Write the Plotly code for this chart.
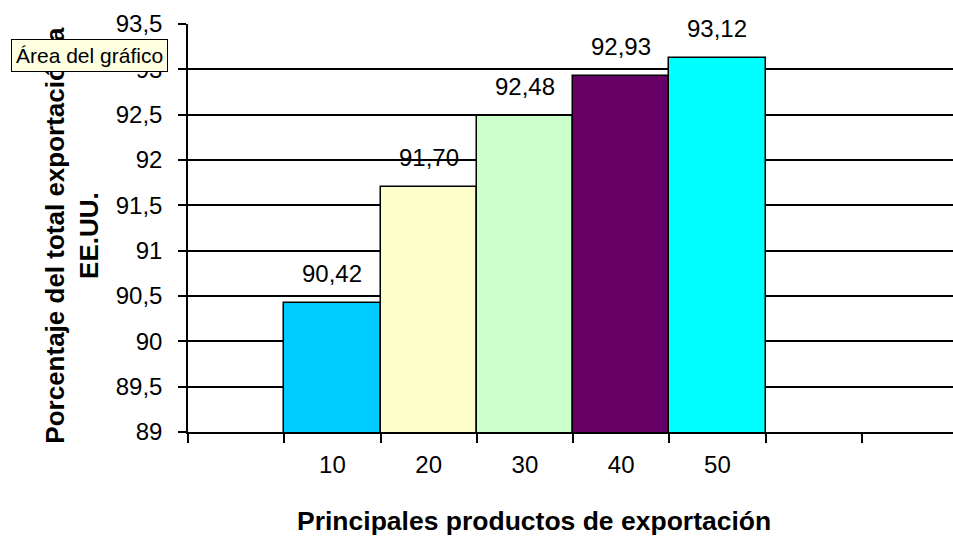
import plotly.graph_objects as go

categories = ["10", "20", "30", "40", "50"]
values = [90.42, 91.70, 92.48, 92.93, 93.12]
colors = ["#00CCFF", "#FFFFCC", "#CCFFCC", "#660066", "#00FFFF"]
x_title = "Principales productos de exportación"
y_title = "Porcentaje del total exportación a<br>EE.UU."
tooltip_text = "Área del gráfico"

# categories occupy slots 1..5 of an 8-slot category axis (slot 0, 6, 7 empty)
positions = [i + 1 for i in range(len(categories))]

fig = go.Figure()
fig.add_trace(go.Bar(
    x=positions, y=values, width=1,
    marker=dict(color=colors, line=dict(color="black", width=1.5)),
    hoverinfo="skip",
))

font_main = "Liberation Sans, Arial"

for p, v in zip(positions, values):
    fig.add_annotation(
        x=p, y=v, xref="x", yref="y",
        text=f"{v:.2f}".replace(".", ","),
        showarrow=False, yanchor="bottom", yshift=14,
        font=dict(family=font_main, size=24, color="black"),
    )

fig.update_layout(
    width=953, height=541,
    margin=dict(l=188, r=0, t=24, b=109),
    paper_bgcolor="white", plot_bgcolor="white",
    separators=",.",
    showlegend=False,
    bargap=0,
    hovermode=False,
    xaxis=dict(
        range=[-0.5, 7.448],
        tickmode="array", tickvals=positions, ticktext=categories,
        ticks="", showgrid=False, zeroline=False,
        showline=True, linecolor="black", linewidth=1.5,
        tickfont=dict(family=font_main, size=24, color="black"),
        ticklabelstandoff=10,
        minor=dict(ticks="outside", ticklen=9, tickcolor="black", tickwidth=1.5,
                   tick0=0.5, dtick=1, showgrid=False),
    ),
    yaxis=dict(
        range=[89, 93.5], dtick=0.5, tick0=89,
        showgrid=True, gridcolor="black", gridwidth=1.5,
        zeroline=False,
        showline=True, linecolor="black", linewidth=1.5,
        ticks="outside", ticklen=8, tickcolor="black", tickwidth=1.5,
        tickfont=dict(family=font_main, size=24, color="black"),
        ticklabelstandoff=11,
    ),
)

fig.add_annotation(
    text=x_title, xref="paper", yref="paper", x=0.452, y=-0.217,
    xanchor="center", yanchor="middle", showarrow=False,
    font=dict(family=font_main, size=26.5, color="black", weight="bold"),
)
fig.add_annotation(
    text=y_title, xref="paper", yref="paper", x=-0.152, y=0.483,
    xanchor="center", yanchor="middle", showarrow=False, textangle=-90,
    font=dict(family=font_main, size=26, color="black", weight="bold"),
)
fig.add_annotation(
    text=tooltip_text, xref="paper", yref="paper", x=-0.2314, y=0.963,
    xanchor="left", yanchor="top", showarrow=False,
    bgcolor="#FFFFE1", bordercolor="black", borderwidth=1, borderpad=4,
    font=dict(family=font_main, size=21, color="black"),
)

fig.write_html("out.html", config={"displayModeBar": False},
               post_script="document.body.style.margin='0px';")
